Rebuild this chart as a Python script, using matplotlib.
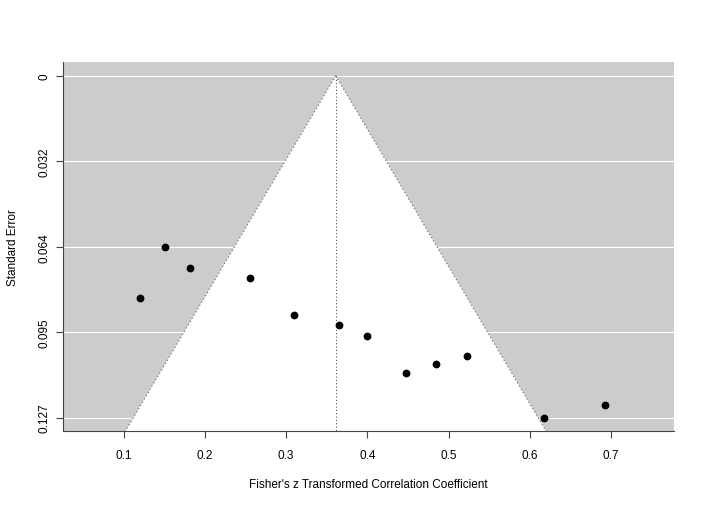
import matplotlib
matplotlib.use("Agg")
import matplotlib.pyplot as plt
import numpy as np

plt.rcParams['font.family'] = ['Liberation Sans', 'DejaVu Sans']

# Data: Fisher's z values and standard errors
zi = [0.1204, 0.1512, 0.1817, 0.2552, 0.3094, 0.3651, 0.3996, 0.4473, 0.4842, 0.5224, 0.6180, 0.6924]
sei = [0.0828, 0.0637, 0.0714, 0.0754, 0.0890, 0.0926, 0.0968, 0.1106, 0.1074, 0.1044, 0.1272, 0.1224]
estimate = 0.3611
x_ticks = [0.1, 0.2, 0.3, 0.4, 0.5, 0.6, 0.7]
x_ticklabels = ["0.1", "0.2", "0.3", "0.4", "0.5", "0.6", "0.7"]
y_ticklabels = ["0", "0.032", "0.064", "0.095", "0.127"]

fig = plt.figure(figsize=(7.1, 5.1), dpi=100)
ax = fig.add_axes([63/710, 1-432.3/510, (674-63)/710, (432.3-63)/510])

maxse = max(sei)
y_ticks = list(np.linspace(0, maxse, 5))
ylim_bottom = maxse * 1.04
ylim_top = -maxse * 0.04
xlim = (0.0252, 0.7777)

ax.set_facecolor("#CCCCCC")
# funnel
ys = [0, ylim_bottom, ylim_bottom]
xs = [estimate, estimate - 1.96*ylim_bottom, estimate + 1.96*ylim_bottom]
ax.fill(xs, ys, facecolor="white", edgecolor="none", zorder=1)
for h in y_ticks:
    ax.axhline(h, color="white", lw=0.8, zorder=0.5)
ax.plot([estimate, estimate - 1.96*ylim_bottom], [0, ylim_bottom], color="#777777", lw=0.9, ls=(0, (1, 2)), zorder=2)
ax.plot([estimate, estimate + 1.96*ylim_bottom], [0, ylim_bottom], color="#777777", lw=0.9, ls=(0, (1, 2)), zorder=2)
ax.plot([estimate, estimate], [0, ylim_bottom], color="#555555", lw=0.8, ls=(0, (1, 2)), zorder=2)

ax.plot(zi, sei, 'o', color="black", markersize=4.6, zorder=3)

ax.set_xlim(*xlim)
ax.set_ylim(ylim_bottom, ylim_top)
ax.set_xticks(x_ticks)
ax.set_xticklabels(x_ticklabels)
ax.set_yticks(y_ticks)
ax.set_yticklabels(y_ticklabels, rotation=90, va="center")
for s in ["top", "right"]:
    ax.spines[s].set_visible(False)
for s in ["left", "bottom"]:
    ax.spines[s].set_color("#444444")
    ax.spines[s].set_linewidth(0.8)
ax.tick_params(axis="both", length=5, width=0.8, color="#444444", labelsize=8.5, pad=8)
ax.tick_params(axis="y", pad=4)
ax.set_xlabel("Fisher's z Transformed Correlation Coefficient", fontsize=8.5, labelpad=12)
ax.set_ylabel("Standard Error", fontsize=8.5, labelpad=14)

fig.savefig("out.png", dpi=100)
